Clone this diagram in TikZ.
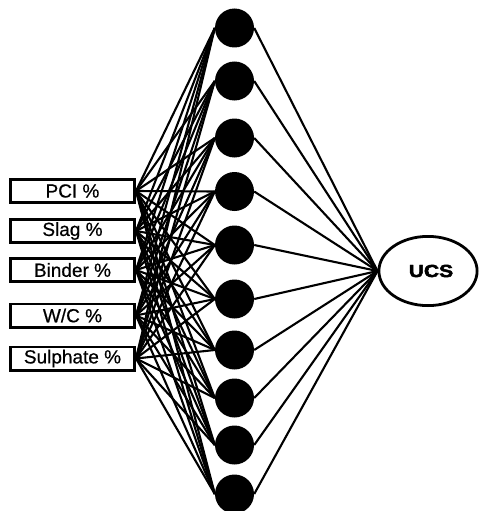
\documentclass[tikz,border=0pt]{standalone}
\usepackage{fontspec}
\setmainfont[FakeBold=0.6]{Liberation Sans}
\newfontfamily\heavysans[FakeBold=2.5]{Liberation Sans Bold}
\usetikzlibrary{shapes.geometric}
\begin{document}
\begin{tikzpicture}[x=1pt,y=-1pt,
  inbox/.style={draw, line width=2.8pt, minimum width=124.2pt, minimum height=23.2pt,
    inner sep=0pt, font=\fontsize{19}{20}\selectfont},
  neuron/.style={circle, fill=black, minimum size=39pt, inner sep=0pt},
  outnode/.style={ellipse, draw, line width=2.8pt, minimum width=98.2pt, minimum height=69.2pt,
    inner sep=0pt, font=\fontsize{17.5}{19}\heavysans},
  link/.style={line width=2.1pt}]
\useasboundingbox (0,0) rectangle (481,511);

% input layer
\node[inbox] (in1) at (72.5,191)   {PCI \%};
\node[inbox] (in2) at (72.5,231)   {Slag \%};
\node[inbox] (in3) at (72.5,270)   {Binder \%};
\node[inbox] (in4) at (72.5,315.5) {W/C \%};
\node[inbox] (in5) at (72.5,358.5) {Sulphate \%};

% hidden layer
\foreach \j/\y in {1/28, 2/81, 3/138, 4/191.5, 5/245, 6/299, 7/350, 8/398, 9/445, 10/494}
  \node[neuron] (h\j) at (234.5,\y) {};

% output
\node[outnode] (out) at (428,271) {\hspace*{6pt}\scalebox{1.2}[1]{UCS}};

% connections
\foreach \i in {1,...,5}
  \foreach \j in {1,...,10}
    \draw[link] (in\i.east) -- (h\j.west);
\foreach \j in {1,...,10}
  \draw[link] (h\j.east) -- (out.west);
\end{tikzpicture}
\end{document}
